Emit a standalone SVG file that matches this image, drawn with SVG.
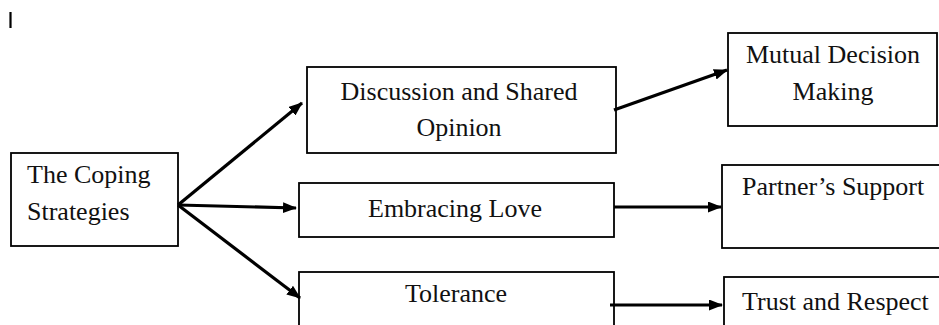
<svg xmlns="http://www.w3.org/2000/svg" width="939" height="325" viewBox="0 0 939 325">
<style>
.box{fill:#fff;stroke:#000;stroke-width:1.8}
.lbl{font-family:'Liberation Serif','Times New Roman',Tinos,'DejaVu Serif',serif;font-size:26px;fill:#111}
.mid{text-anchor:middle}
.conn{stroke:#000;stroke-width:3.2;fill:none;marker-end:url(#ah)}
</style>
<defs>
<marker id="ah" viewBox="0 0 14 11" refX="13" refY="5.5" markerWidth="14" markerHeight="11" markerUnits="userSpaceOnUse" orient="auto">
<path d="M0,0 L14,5.5 L0,11 z" fill="#000"/>
</marker>
</defs>
<rect x="0" y="0" width="939" height="325" fill="#fff"/>
<line x1="10.5" y1="12" x2="10.5" y2="28" stroke="#000" stroke-width="2.2"/>
<g id="n-coping">
<rect class="box" x="11" y="153" width="167" height="93"/>
<text class="lbl" x="27" y="183" font-family="Liberation Serif, serif">The Coping</text>
<text class="lbl" x="27" y="220" font-family="Liberation Serif, serif">Strategies</text>
</g>
<g id="n-discussion">
<rect class="box" x="307" y="67" width="309" height="86"/>
<text class="lbl mid" x="459" y="100">Discussion and Shared</text>
<text class="lbl mid" x="459" y="136">Opinion</text>
</g>
<g id="n-embracing">
<rect class="box" x="299" y="183" width="315" height="54"/>
<text class="lbl mid" x="455" y="217">Embracing Love</text>
</g>
<g id="n-tolerance">
<rect class="box" x="299" y="272" width="315" height="70"/>
<text class="lbl mid" x="456" y="302">Tolerance</text>
</g>
<g id="n-mutual">
<rect class="box" x="728" y="33" width="209" height="93"/>
<text class="lbl mid" x="833" y="63">Mutual Decision</text>
<text class="lbl mid" x="833" y="100">Making</text>
</g>
<g id="n-partner">
<rect class="box" x="722" y="165" width="230" height="83"/>
<text class="lbl" x="742" y="195">Partner’s Support</text>
</g>
<g id="n-trust">
<rect class="box" x="724" y="277" width="230" height="70"/>
<text class="lbl" x="742" y="310">Trust and Respect</text>
</g>
<g id="connectors">
<line class="conn" x1="178" y1="205" x2="302" y2="103"/>
<line class="conn" x1="178" y1="205" x2="296" y2="208"/>
<line class="conn" x1="178" y1="205" x2="300" y2="298"/>
<line class="conn" x1="614" y1="110" x2="727" y2="70"/>
<line class="conn" x1="614" y1="207" x2="721" y2="207"/>
<line class="conn" x1="610" y1="305" x2="722" y2="305"/>
</g>
</svg>
